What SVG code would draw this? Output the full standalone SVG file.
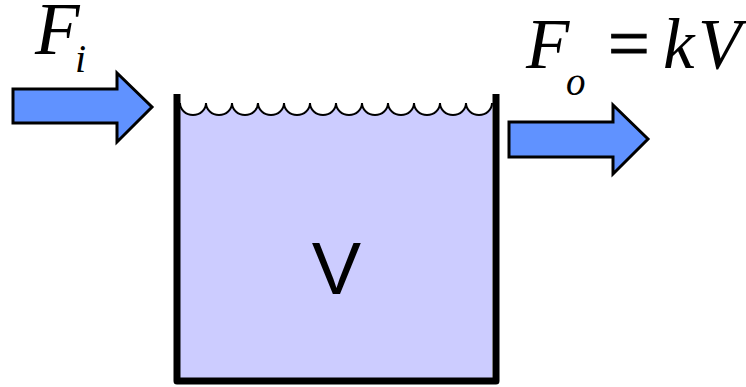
<svg xmlns="http://www.w3.org/2000/svg" width="746" height="387" viewBox="0 0 746 387">
<defs>
<style>
.arrow{fill:#6092FF;stroke:#000;stroke-width:3;stroke-linejoin:miter}
.math{font-family:"Liberation Serif","Times New Roman",serif;font-style:italic;fill:#000}
.eq{font-family:"Liberation Serif","Times New Roman",serif;font-style:normal;stroke:#000;stroke-width:1}
.label{font-family:"Liberation Sans",Arial,sans-serif;fill:#000}
</style>
</defs>
<g id="tank">
<path d="M180,103 a13,12 0 0 0 26,0 a13,12 0 0 0 26,0 a13,12 0 0 0 26,0 a13,12 0 0 0 26,0 a13,12 0 0 0 26,0 a13,12 0 0 0 26,0 a13,12 0 0 0 26,0 a13,12 0 0 0 26,0 a13,12 0 0 0 26,0 a13,12 0 0 0 26,0 a13,12 0 0 0 26,0 a13,12 0 0 0 26,0 L492,381 L180,381 Z" fill="#CCCCFF"/>
<path d="M180,103 a13,12 0 0 0 26,0 a13,12 0 0 0 26,0 a13,12 0 0 0 26,0 a13,12 0 0 0 26,0 a13,12 0 0 0 26,0 a13,12 0 0 0 26,0 a13,12 0 0 0 26,0 a13,12 0 0 0 26,0 a13,12 0 0 0 26,0 a13,12 0 0 0 26,0 a13,12 0 0 0 26,0 a13,12 0 0 0 26,0" fill="none" stroke="#000" stroke-width="2"/>
<polyline points="177,94 177,381 496,381 496,94" fill="none" stroke="#000" stroke-width="7" stroke-linejoin="round"/>
<text class="label" x="336.5" y="294" font-size="74" text-anchor="middle">V</text>
</g>
<g id="inflow">
<polygon class="arrow" points="13,89 117,89 117,73 152,107 117,142 117,123 13,123"/>
<text class="math" x="35" y="54" font-size="73">F</text>
<text class="math" x="75" y="72" font-size="40">i</text>
</g>
<g id="outflow">
<polygon class="arrow" points="509,122 613,122 613,105 648,139 613,174 613,157 509,157"/>
<text class="math" font-size="71" y="68"><tspan x="526">F</tspan><tspan class="eq" x="608" font-size="74">=</tspan><tspan x="663">k</tspan><tspan x="698">V</tspan></text>
<text class="math" x="566" y="95" font-size="39">o</text>
</g>
</svg>
